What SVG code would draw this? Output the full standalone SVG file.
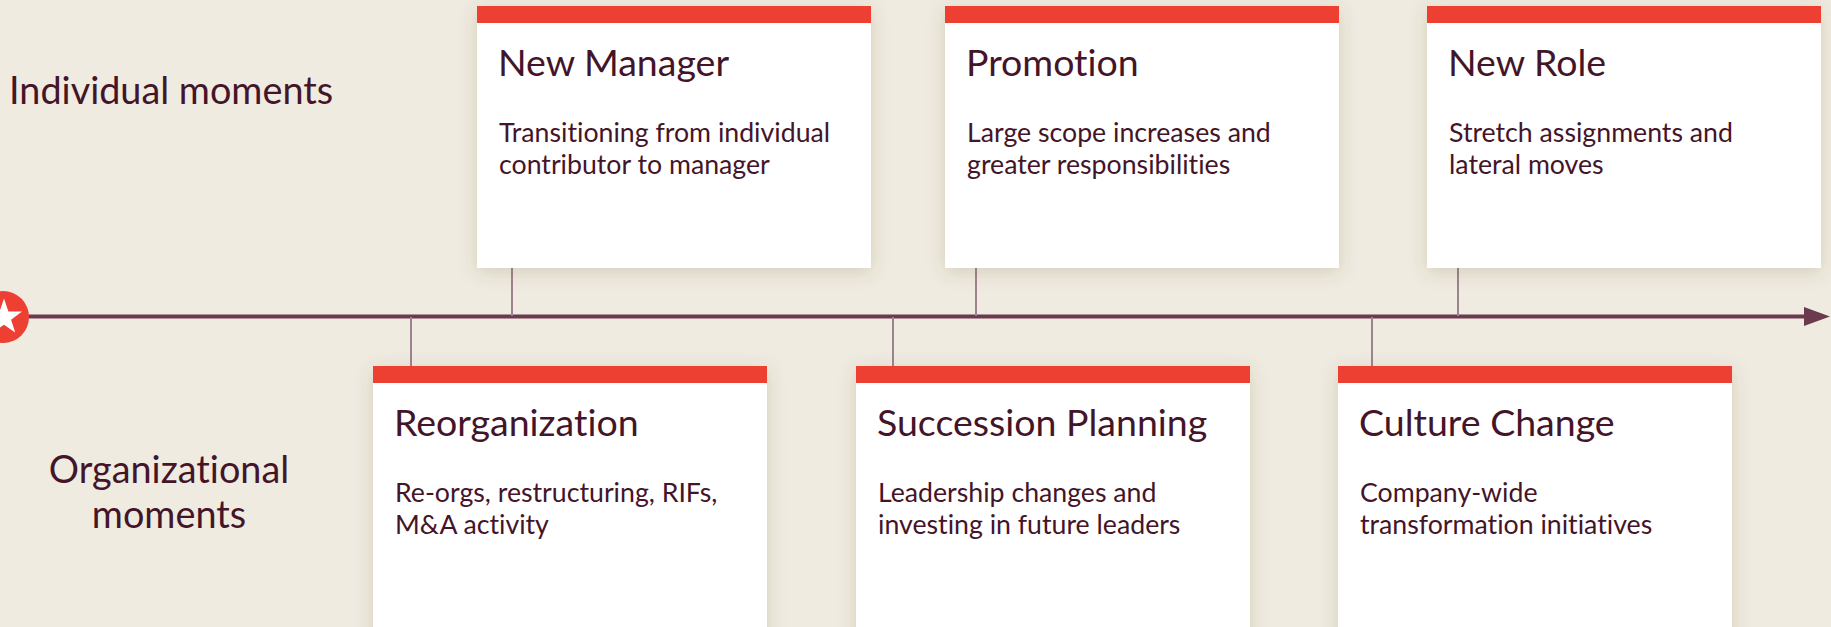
<svg xmlns="http://www.w3.org/2000/svg" width="1831" height="627" viewBox="0 0 1831 627">
  <defs>
    <filter id="cardShadow" x="-10%" y="-10%" width="120%" height="130%">
      <feDropShadow dx="0" dy="4" stdDeviation="9" flood-color="#5a4630" flood-opacity="0.18"/>
    </filter>
    <marker id="axisHead" viewBox="0 0 26 19" refX="0" refY="9.5" markerWidth="26" markerHeight="19" markerUnits="userSpaceOnUse" orient="auto">
      <path d="M0,0 L26,9.5 L0,19 Z" fill="#6b3b4d"/>
    </marker>
    <style>
      .bg { fill: #efebe0; }
      .card { fill: #ffffff; filter: url(#cardShadow); }
      .bar { fill: #ee3f33; }
      text { font-family: Lato, "Liberation Sans", sans-serif; fill: #441529; font-variant-ligatures: none; }
      .title { font-size: 37.5px; }
      .desc { font-size: 26.7px; }
      .lane { font-size: 37.8px; }
      .axis { stroke: #6b3b4d; stroke-width: 4; fill: none; }
      .tick { stroke: #9d8290; stroke-width: 2; fill: none; }
    </style>
  </defs>

  <rect class="bg" x="0" y="0" width="1831" height="627"/>

  <!-- lane labels -->
  <g id="lane-individual">
    <text class="lane" x="9" y="104">Individual moments</text>
  </g>
  <g id="lane-organizational">
    <text class="lane" x="169" y="483" text-anchor="middle">Organizational</text>
    <text class="lane" x="169" y="528" text-anchor="middle">moments</text>
  </g>

  <!-- timeline axis and ticks -->
  <g id="connectors">
    <line class="axis" x1="20" y1="316.5" x2="1804" y2="316.5" marker-end="url(#axisHead)"/>
    <line class="tick" x1="512" y1="268" x2="512" y2="316"/>
    <line class="tick" x1="976" y1="268" x2="976" y2="316"/>
    <line class="tick" x1="1458" y1="268" x2="1458" y2="316"/>
    <line class="tick" x1="411" y1="317" x2="411" y2="366"/>
    <line class="tick" x1="893" y1="317" x2="893" y2="366"/>
    <line class="tick" x1="1372" y1="317" x2="1372" y2="366"/>
  </g>

  <!-- start badge -->
  <g id="start">
    <circle cx="3" cy="317" r="26" fill="#ee3f33"/>
    <polygon fill="#ffffff" points="4,298.5 8.4,311.4 22,311.6 11.1,319.7 15.2,332.6 4,324.8 -7.2,332.6 -3.1,319.7 -14,311.6 -0.4,311.4"/>
  </g>

  <!-- individual moments -->
  <g id="new-manager">
    <rect class="card" x="477" y="6" width="394" height="262"/>
    <rect class="bar" x="477" y="6" width="394" height="17"/>
    <text class="title" x="498" y="76">New Manager</text>
    <text class="desc" x="499" y="142">Transitioning from individual</text>
    <text class="desc" x="499" y="174">contributor to manager</text>
  </g>
  <g id="promotion">
    <rect class="card" x="945" y="6" width="394" height="262"/>
    <rect class="bar" x="945" y="6" width="394" height="17"/>
    <text class="title" x="966" y="76">Promotion</text>
    <text class="desc" x="967" y="142">Large scope increases and</text>
    <text class="desc" x="967" y="174">greater responsibilities</text>
  </g>
  <g id="new-role">
    <rect class="card" x="1427" y="6" width="394" height="262"/>
    <rect class="bar" x="1427" y="6" width="394" height="17"/>
    <text class="title" x="1448" y="76">New Role</text>
    <text class="desc" x="1449" y="142">Stretch assignments and</text>
    <text class="desc" x="1449" y="174">lateral moves</text>
  </g>

  <!-- organizational moments -->
  <g id="reorganization">
    <rect class="card" x="373" y="366" width="394" height="290"/>
    <rect class="bar" x="373" y="366" width="394" height="17"/>
    <text class="title" x="394" y="436">Reorganization</text>
    <text class="desc" x="395" y="502">Re-orgs, restructuring, RIFs,</text>
    <text class="desc" x="395" y="534">M&amp;A activity</text>
  </g>
  <g id="succession-planning">
    <rect class="card" x="856" y="366" width="394" height="290"/>
    <rect class="bar" x="856" y="366" width="394" height="17"/>
    <text class="title" x="877" y="436">Succession Planning</text>
    <text class="desc" x="878" y="502">Leadership changes and</text>
    <text class="desc" x="878" y="534">investing in future leaders</text>
  </g>
  <g id="culture-change">
    <rect class="card" x="1338" y="366" width="394" height="290"/>
    <rect class="bar" x="1338" y="366" width="394" height="17"/>
    <text class="title" x="1359" y="436">Culture Change</text>
    <text class="desc" x="1360" y="502">Company-wide</text>
    <text class="desc" x="1360" y="534">transformation initiatives</text>
  </g>
</svg>
